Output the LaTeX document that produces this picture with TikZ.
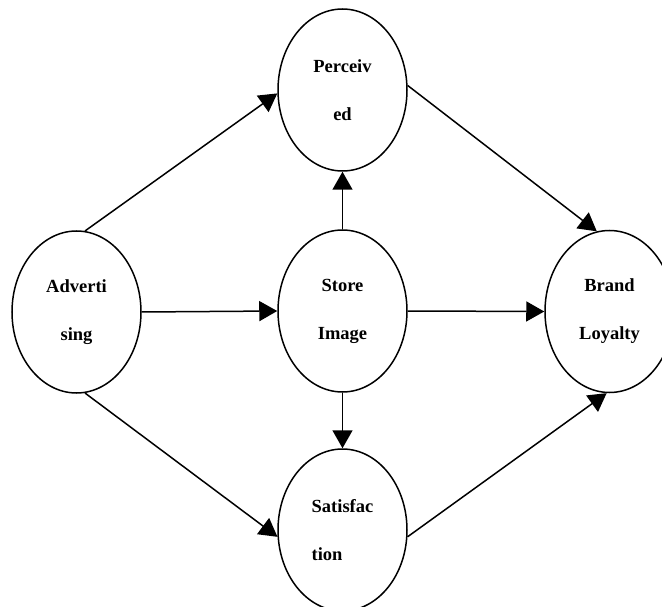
\documentclass[tikz,border=0pt]{standalone}
\usepackage{fontspec}
\setmainfont{Liberation Serif}
\usetikzlibrary{shapes.geometric,arrows.meta}
\begin{document}
\begin{tikzpicture}[x=1pt,y=-1pt,
  oval/.style={ellipse,draw,line width=1.5pt,minimum width=129pt,minimum height=162pt,inner sep=0pt,
    align=center,font=\fontsize{18.5}{48}\selectfont\bfseries},
  link/.style={line width=1.5pt,-{Triangle[length=18pt,width=20pt]}}]
\useasboundingbox (0,0) rectangle (662,607);
\node[oval] (adv) at (76.5,312) {Adverti\\sing};
\node[oval] (per) at (342.5,90) {Perceiv\\ed};
\node[oval] (sto) at (342.5,311) {Store\\Image};
\node[oval,align=left] (sat) at (342.5,530) {Satisfac\\tion};
\node[oval] (bra) at (609.5,311.5) {Brand\\Loyalty};
\draw[link] (adv.84) -- (per.183);
\draw[link] (adv.276) -- (sat.186);
\draw[link] (adv.east) -- (sto.west);
\draw[link] (sto.north) -- (per.south);
\draw[link] (sto.south) -- (sat.north);
\draw[link] (sto.east) -- (bra.west);
\draw[link] (per.4) -- (bra.99);
\draw[link] (sat.354) -- (bra.268);
\end{tikzpicture}
\end{document}
